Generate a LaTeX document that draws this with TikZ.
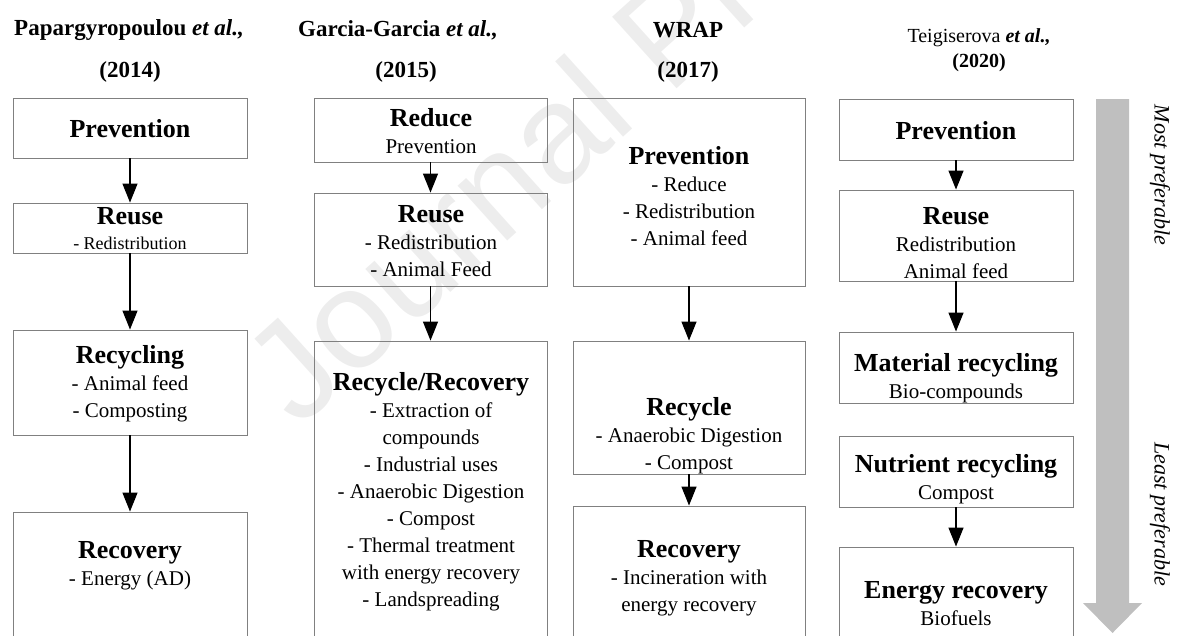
\documentclass[tikz,border=0pt]{standalone}
\usepackage{fontspec}
\setmainfont{Liberation Serif}
\newfontfamily\wmfont{Liberation Sans}
\usetikzlibrary{arrows.meta,fit}
\newcommand\boxtitle[1]{{\fontsize{26}{27}\selectfont\bfseries #1}}
\begin{document}
\begin{tikzpicture}[x=1pt,y=-1pt,
  box/.style={draw=black!50, line width=0.9pt, inner sep=0pt},
  txt/.style={align=center, font=\fontsize{21}{27}\selectfont, inner sep=0pt},
  hdr/.style={font=\fontsize{23}{27}\selectfont\bfseries, inner sep=0pt},
  conn/.style={-{Triangle[length=19pt,width=15pt]}, line width=1.3pt, black},
  side/.style={rotate=-90, font=\fontsize{22}{22}\selectfont\itshape, inner sep=0pt}
]
\useasboundingbox (0,0) rectangle (1177,635);
\clip (0,0) rectangle (1177,635);
% watermark
\node[rotate=42, anchor=base west, font=\wmfont\fontsize{140}{140}\selectfont, text=black!7, inner sep=0pt] (wm) at (298,430) {Journal Pre-proof};
% headers
\node[hdr] (h1) at (129,30) {Papargyropoulou \textit{et al.,}};
\node[hdr] (y1) at (130,72) {(2014)};
\node[hdr] (h2) at (398,30) {Garcia-Garcia \textit{et al.,}};
\node[hdr] (y2) at (406,72) {(2015)};
\node[hdr] (h3) at (688,30) {WRAP};
\node[hdr] (y3) at (688,72) {(2017)};
\node[font=\fontsize{20}{20}\selectfont, inner sep=0pt] (h4) at (979,38) {Teigiserova \textbf{\textit{et al.,}}};
\node[font=\fontsize{20}{20}\selectfont\bfseries, inner sep=0pt] (y4) at (979,63) {(2020)};
% column 1
\node[box, fit={(13,98) (247,158)}] (p1) {};
\node[txt] (p1t) at (130,129) {\boxtitle{Prevention}};
\node[box, fit={(13,203) (247,253)}] (r1) {};
\node[txt, font=\fontsize{18}{25}\selectfont] (r1t) at (130,229) {\boxtitle{Reuse}\\- Redistribution};
\node[box, fit={(13,330) (247,435)}] (c1) {};
\node[txt] (c1t) at (130,384) {\boxtitle{Recycling}\\- Animal feed\\- Composting};
\node[box, fit={(13,512) (247,700)}] (v1) {};
\node[txt] (v1t) at (130,566) {\boxtitle{Recovery}\\- Energy (AD)};
% column 2
\node[box, fit={(314,98) (547,162)}] (p2) {};
\node[txt] (p2t) at (431,131) {\boxtitle{Reduce}\\Prevention};
\node[box, fit={(314,193) (547,286)}] (r2) {};
\node[txt] (r2t) at (431,241) {\boxtitle{Reuse}\\- Redistribution\\- Animal Feed};
\node[box, fit={(314,341) (547,700)}] (c2) {};
\node[txt] (c2t) at (431,492) {\boxtitle{Recycle/Recovery}\\- Extraction of\\compounds\\- Industrial uses\\- Anaerobic Digestion\\- Compost\\- Thermal treatment\\with energy recovery\\- Landspreading};
% column 3
\node[box, fit={(573,98) (805,286)}] (p3) {};
\node[txt] (p3t) at (689,196) {\boxtitle{Prevention}\\- Reduce\\- Redistribution\\- Animal feed};
\node[box, fit={(573,341) (805,474)}] (c3) {};
\node[txt] (c3t) at (689,436) {\boxtitle{Recycle}\\- Anaerobic Digestion\\- Compost};
\node[box, fit={(573,506) (805,700)}] (v3) {};
\node[txt] (v3t) at (689,578) {\boxtitle{Recovery}\\- Incineration with\\energy recovery};
% column 4
\node[box, fit={(839,99) (1073,160)}] (p4) {};
\node[txt] (p4t) at (956,131) {\boxtitle{Prevention}};
\node[box, fit={(839,190) (1073,281)}] (r4) {};
\node[txt] (r4t) at (956,243) {\boxtitle{Reuse}\\Redistribution\\Animal feed};
\node[box, fit={(839,332) (1073,403)}] (m4) {};
\node[txt] (m4t) at (956,378) {\boxtitle{Material recycling}\\Bio-compounds};
\node[box, fit={(839,436) (1073,507)}] (n4) {};
\node[txt] (n4t) at (956,479) {\boxtitle{Nutrient recycling}\\Compost};
\node[box, fit={(839,547) (1073,700)}] (e4) {};
\node[txt] (e4t) at (956,604) {\boxtitle{Energy recovery}\\Biofuels};
% connectors
\draw[conn] (p1.south) -- (r1.north);
\draw[conn] (r1.south) -- (c1.north);
\draw[conn] (c1.south) -- (v1.north);
\draw[conn] (p2.south) -- (r2.north);
\draw[conn] (r2.south) -- (c2.north);
\draw[conn] (p3.south) -- (c3.north);
\draw[conn] (c3.south) -- (v3.north);
\draw[conn] (p4.south) -- (r4.north);
\draw[conn] (r4.south) -- (m4.north);
\draw[conn] (n4.south) -- (e4.north);
% preference arrow
\fill[black!25] (1096,99) -- (1129,99) -- (1129,603) -- (1142,603) -- (1112.5,633) -- (1083,603) -- (1096,603) -- cycle;
\node[side] (most) at (1160,175) {Most preferable};
\node[side] (least) at (1160,514) {Least preferable};
\end{tikzpicture}
\end{document}
